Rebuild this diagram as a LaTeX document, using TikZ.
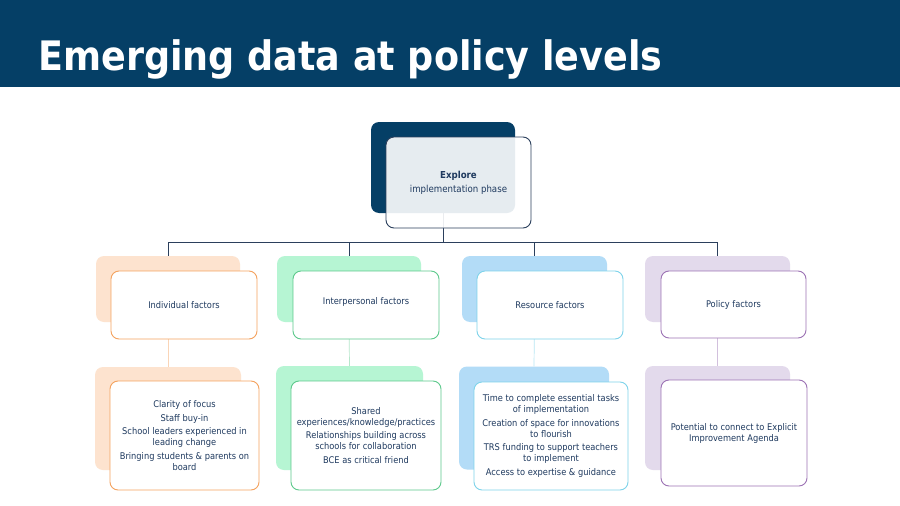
\documentclass[tikz,border=0pt]{standalone}
\usepackage{fontspec}
\setmainfont{DejaVu Sans Condensed}
\usetikzlibrary{positioning}
\definecolor{navy}{HTML}{053F66}
\definecolor{inktext}{HTML}{1F3A5F}
\definecolor{treeline}{HTML}{2B3F5C}
\definecolor{peachfill}{HTML}{FDE3CF}
\definecolor{peachline}{HTML}{F4A25E}
\definecolor{mintfill}{HTML}{B6F5D3}
\definecolor{mintline}{HTML}{5DC98C}
\definecolor{skyfill}{HTML}{B3DCF7}
\definecolor{skyline}{HTML}{7ED3EA}
\definecolor{lilacfill}{HTML}{E3DAEC}
\definecolor{lilacline}{HTML}{9C72B4}
\begin{document}
\begin{tikzpicture}[x=1pt,y=-1pt,
    back/.style={fill=#1,rounded corners=8pt,inner sep=0pt},
    front/.style={draw=#1,line width=0.9pt,fill=white,rounded corners=8pt,
        text=inktext,align=center,inner sep=0pt,font=\fontsize{9.2}{11}\selectfont},
    tree/.style={treeline,line width=0.7pt}]
    \useasboundingbox (0,0) rectangle (900,506);
    \fill[white] (0,0) rectangle (900,506);
    % bandeau du titre
    \fill[navy] (0,0) rectangle (900,87);
    \node[anchor=base west,inner sep=0pt,text=white,font=\fontsize{40.6}{40}\bfseries\selectfont] (title) at (38,70) {Emerging data at policy levels};
    % fond des cadres
    \node[back=navy,minimum width=144pt,minimum height=91pt] (exploreB) at (443,167.5) {};
    \node[back=peachfill,minimum width=144pt,minimum height=66pt] (indB) at (168,289) {};
    \node[back=mintfill,minimum width=144pt,minimum height=66pt] (intB) at (349,289) {};
    \node[back=skyfill,minimum width=145pt,minimum height=66pt] (resB) at (534.5,289) {};
    \node[back=lilacfill,minimum width=145pt,minimum height=66pt] (polB) at (717.5,289) {};
    \node[back=peachfill,minimum width=146pt,minimum height=103pt] (indDB) at (168,418.5) {};
    \node[back=mintfill,minimum width=147pt,minimum height=104pt] (intDB) at (349.5,418) {};
    \node[back=skyfill,minimum width=150pt,minimum height=103pt] (resDB) at (534,418) {};
    \node[back=lilacfill,minimum width=145pt,minimum height=104pt] (polDB) at (717.5,418) {};
    % liaisons
    \coordinate (fork) at (443,242);
    \draw[tree] (exploreB.south) -- (fork);
    \draw[tree] (fork) -| (indB.north);
    \draw[tree] (fork) -| (intB.north);
    \draw[tree] (fork) -| (resB.north);
    \draw[tree] (fork) -| (polB.north);
    \draw[peachline!45,line width=0.7pt] (indB.south) -- (indDB.north);
    \draw[mintline!45,line width=0.7pt] (intB.south) -- (intDB.north);
    \draw[skyline!55,line width=0.7pt] (resB.south) -- (resDB.north);
    \draw[lilacline!45,line width=0.7pt] (polB.south) -- (polDB.north);
    % cadres de devant
    \node[front=treeline,fill opacity=0.9,text opacity=1,minimum width=145pt,minimum height=91pt,font=\fontsize{9.6}{14}\selectfont] (explore) at (458.5,182.5) {\textbf{Explore}\\implementation phase};
    \node[front=peachline,minimum width=146pt,minimum height=68pt] (ind) at (184,305) {Individual factors};
    \node[front=mintline,minimum width=146pt,minimum height=68pt] (int) at (366,305) {\raisebox{7pt}{Interpersonal factors}};
    \node[front=skyline,minimum width=146pt,minimum height=68pt] (res) at (550,305) {Resource factors};
    \node[front=lilacline,minimum width=145pt,minimum height=67pt] (pol) at (733.5,304.5) {Policy factors};
    \node[front=peachline,minimum width=149pt,minimum height=109pt] (indD) at (184.5,435.5)
        {Clarity of focus\\[2.5pt]Staff buy-in\\[2.5pt]School leaders experienced in\\leading change\\[2.5pt]Bringing students \& parents on\\board};
    \node[front=mintline,minimum width=150pt,minimum height=109pt] (intD) at (366,435.5)
        {Shared\\experiences/knowledge/practices\\[2.5pt]Relationships building across\\schools for collaboration\\[2.5pt]BCE as critical friend};
    \node[front=skyline,minimum width=154pt,minimum height=108pt] (resD) at (551,436)
        {Time to complete essential tasks\\of implementation\\[2.5pt]Creation of space for innovations\\to flourish\\[2.5pt]TRS funding to support teachers\\to implement\\[2.5pt]Access to expertise \& guidance};
    \node[front=lilacline,minimum width=146pt,minimum height=106pt] (polD) at (734,433)
        {Potential to connect to Explicit\\Improvement Agenda};
\end{tikzpicture}
\end{document}
